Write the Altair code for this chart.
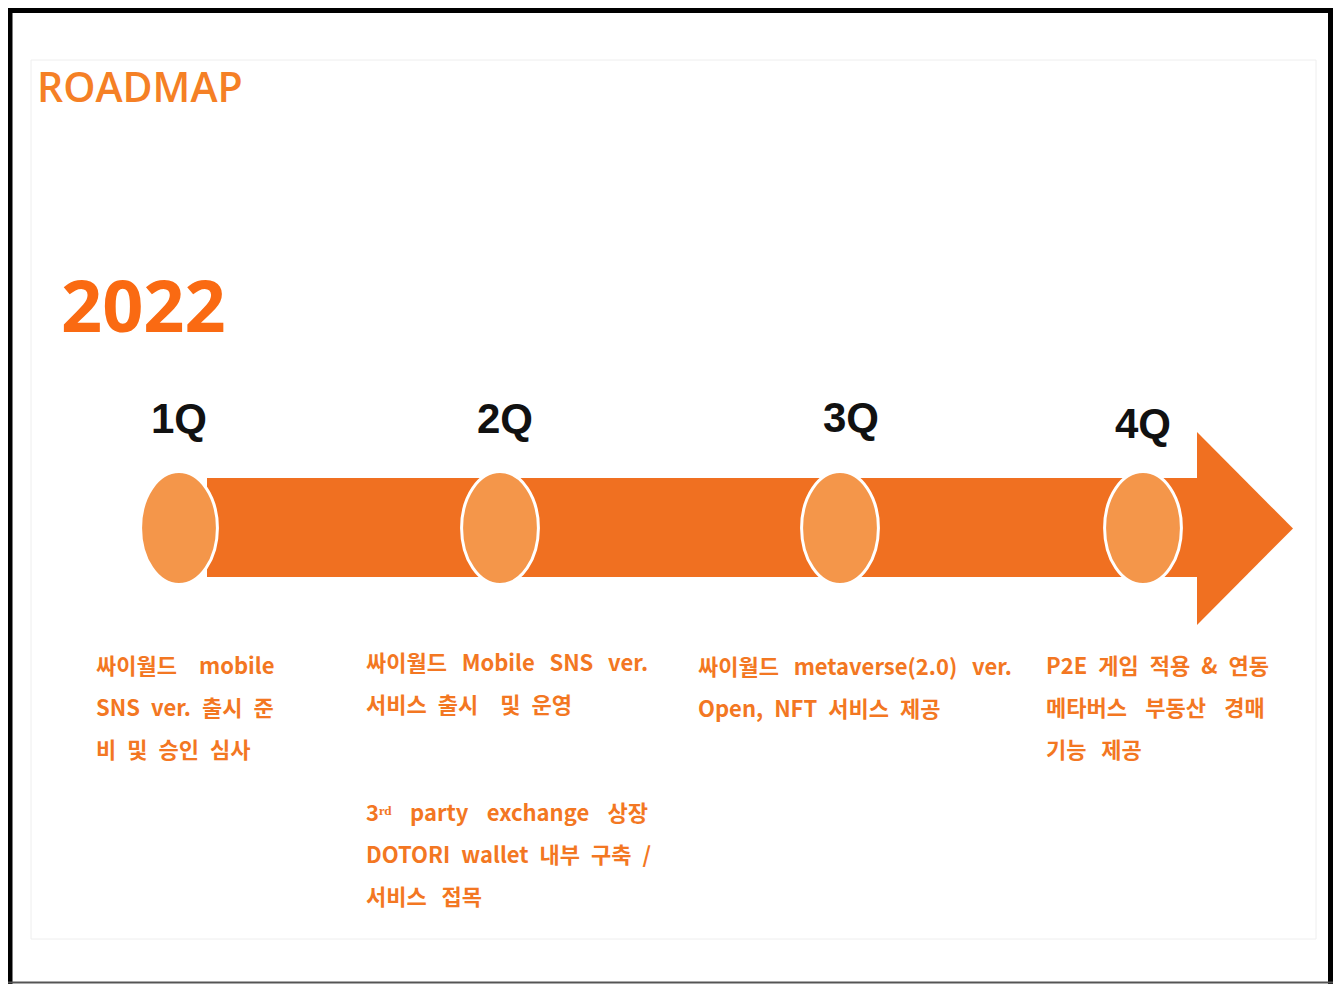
import altair as alt
import pandas as pd

# ---------------- data ----------------
title_text = "ROADMAP"
year_text = "2022"
quarters = ["1Q", "2Q", "3Q", "4Q"]
EN = "\u2002"   # en space
EM = "\u2003"   # em space
P3 = "\u2004"   # three-per-em space
P6 = "\u2006"   # six-per-em space
quarter_text = [
    ["싸이월드" + EM + "mobile", "SNS" + EN + "ver." + EN + "출시" + EN + "준", "비" + EN + "및" + EN + "승인" + EN + "심사"],
    ["싸이월드" + EN + P6 + "Mobile" + EN + P6 + "SNS" + EN + P6 + "ver.", "서비스" + EN + "출시" + EM + "및" + EN + "운영"],
    ["싸이월드" + EN + P6 + "metaverse(2.0)" + EN + P6 + "ver.", "Open," + EN + "NFT" + EN + "서비스" + EN + "제공"],
    ["P2E" + EN + "게임" + EN + "적용" + EN + "&" + EN + "연동", "메타버스" + EN + P3 + "부동산" + EN + P3 + "경매", "기능" + EN + P6 + "제공"],
]
extra_2q_text = [
    "3ʳᵈ" + EN + P3 + "party" + EN + P3 + "exchange" + EN + P3 + "상장",
    "DOTORI" + EN + "wallet" + EN + "내부" + EN + "구축" + EN + "/",
    "서비스" + EN + P6 + "접목",
]

# ---------------- layout (pixel space of the picture) ----------------
circle_x = [179, 500, 840, 1143]
circle_y = 528
label_x = [179, 505, 851, 1143]
label_y = [420, 420, 419, 425]
block_x = [96, 366, 698, 1046]
block_y0 = [667, 664, 668, 667]
extra_x, extra_y0 = 366, 814
line_gap = 42

ORANGE_BODY = "#F07021"
ORANGE_CIRCLE = "#F4964A"
ORANGE_TEXT = "#F37722"
KFONT = "Noto Sans CJK KR"

xs = alt.Scale(domain=[8, 1333], nice=False, zero=False)
ys = alt.Scale(domain=[8, 984], nice=False, zero=False, reverse=True)


def X(f="x"):
    return alt.X(f"{f}:Q", scale=xs, axis=None)


def Y(f="y"):
    return alt.Y(f"{f}:Q", scale=ys, axis=None)


# frame
frame = [
    {"x": 10, "x2": 10, "y": 8, "y2": 984, "c": "black", "w": 5},
    {"x": 8, "x2": 1333, "y": 10.5, "y2": 10.5, "c": "black", "w": 5},
    {"x": 1330.5, "x2": 1330.5, "y": 8, "y2": 984, "c": "black", "w": 5},
    {"x": 8, "x2": 1333, "y": 982.5, "y2": 982.5, "c": "#555555", "w": 2},
]
frame_layers = []
for r in frame:
    frame_layers.append(
        alt.Chart(pd.DataFrame([r])).mark_rule(color=r["c"], strokeWidth=float(r["w"])).encode(
            x=X(), x2="x2:Q", y=Y(), y2="y2:Q"
        )
    )

inner_box = alt.Chart(pd.DataFrame([{"x": 31, "x2": 1316, "y": 60, "y2": 939}])).mark_rect(
    fillOpacity=0, stroke="#eeeeee", strokeWidth=1
).encode(x=X(), x2="x2:Q", y=Y(), y2="y2:Q")

body = alt.Chart(pd.DataFrame([{"x": 207, "x2": 1198, "y": 478, "y2": 577}])).mark_rect(
    color=ORANGE_BODY
).encode(x=X(), x2="x2:Q", y=Y(), y2="y2:Q")

head = alt.Chart(pd.DataFrame([
    {"x": 1197, "y": 432, "y2": 625},
    {"x": 1293, "y": 528.5, "y2": 528.5},
])).mark_area(color=ORANGE_BODY, orient="vertical", opacity=1).encode(x=X(), y=Y(), y2="y2:Q")

ellipse = "M -0.68 0 A 0.68 1 0 1 0 0.68 0 A 0.68 1 0 1 0 -0.68 0 Z"
circles = alt.Chart(pd.DataFrame({"x": circle_x, "y": [circle_y] * 4, "q": quarters})).mark_point(
    shape=ellipse, size=113 * 113, fill=ORANGE_CIRCLE, stroke="white", strokeWidth=3,
    fillOpacity=1, opacity=1, strokeOpacity=1
).encode(x=X(), y=Y())

qlabels = alt.Chart(pd.DataFrame({"x": label_x, "y": label_y, "t": quarters})).mark_text(
    font="Liberation Sans Narrow, Liberation Sans, Arial, sans-serif",
    fontSize=42, fontWeight="bold", color="#111111", align="center", baseline="middle"
).encode(x=X(), y=Y(), text="t:N")

rows = []
for i, lines in enumerate(quarter_text):
    for j, t in enumerate(lines):
        rows.append({"x": block_x[i], "y": block_y0[i] + j * line_gap, "t": t})
for j, t in enumerate(extra_2q_text):
    rows.append({"x": extra_x, "y": extra_y0 + j * line_gap, "t": t})

body_text = alt.Chart(pd.DataFrame(rows)).mark_text(
    font=KFONT, fontSize=22, fontWeight="bold", color=ORANGE_TEXT, align="left", baseline="middle"
).encode(x=X(), y=Y(), text="t:N")

title = alt.Chart(pd.DataFrame([{"x": 37, "y": 102, "t": title_text}])).mark_text(
    font="Open Sans", fontSize=41, fontWeight=600, color="#F58025", align="left", baseline="alphabetic"
).encode(x=X(), y=Y(), text="t:N")

year = alt.Chart(pd.DataFrame([{"x": 61, "y": 332, "t": year_text}])).mark_text(
    font="Open Sans", fontSize=72, fontWeight="bold", color="#FA6A12", align="left", baseline="alphabetic"
).encode(x=X(), y=Y(), text="t:N")

chart = alt.layer(
    inner_box, *frame_layers, body, head, circles, qlabels, body_text, title, year
).properties(
    width=1325, height=976, padding=0, background="white",
    autosize=alt.AutoSizeParams(type="none")
).configure_view(strokeWidth=0)

chart.save("out.html", embed_options={"renderer": "svg", "actions": False})
